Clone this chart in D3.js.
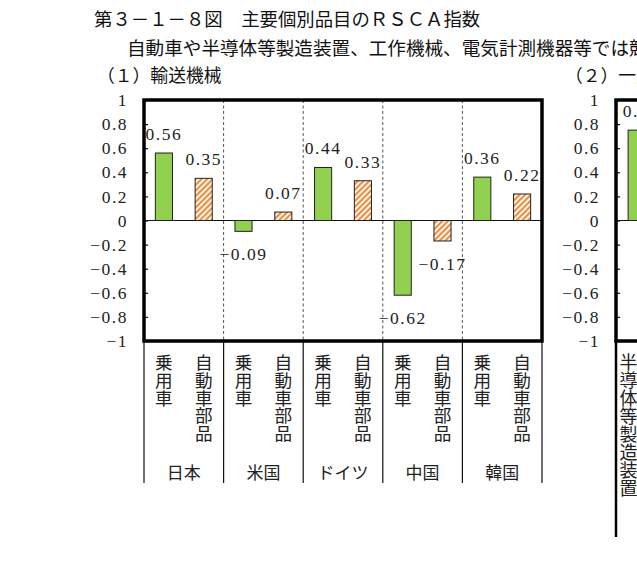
<!DOCTYPE html>
<html><head><meta charset="utf-8">
<script src="https://cdn.jsdelivr.net/npm/d3@7"></script>
<style>
html,body{margin:0;padding:0;background:#fff;overflow:hidden;}
svg{display:block;}
.jp{font-family:"Noto Sans CJK JP","Noto Sans CJK SC",sans-serif;}
.num{font-family:"Liberation Serif","DejaVu Serif",serif;font-size:17.5px;letter-spacing:1.5px;fill:#222;}
</style></head>
<body>
<svg id="c" width="637" height="570"></svg>
<script>
// ---- data ----
const countries = ["日本", "米国", "ドイツ", "中国", "韓国"];
const items = ["乗用車", "自動車部品"];
const passengerCars = [0.56, -0.09, 0.44, -0.62, 0.36];
const autoParts = [0.35, 0.07, 0.33, -0.17, 0.22];
const yTicks = [-1, -0.8, -0.6, -0.4, -0.2, 0, 0.2, 0.4, 0.6, 0.8, 1];
const panel2Items = ["半導体等製造装置"];
const panel2Values = [0.75];
const titleText = "第３－１－８図　主要個別品目のＲＳＣＡ指数";
const subtitleText = "自動車や半導体等製造装置、工作機械、電気計測機器等では競";
const panel1Title = "（１）輸送機械";
const panel2Title = "（２）一般機械";

// ---- build ----
const svg = d3.select("#c");
const defs = svg.append("defs");
const pat = defs.append("pattern").attr("id", "hatch").attr("patternUnits", "userSpaceOnUse")
  .attr("width", 4).attr("height", 4).attr("patternTransform", "rotate(45)");
pat.append("rect").attr("width", 4).attr("height", 4).attr("fill", "#fff");
pat.append("rect").attr("width", 2.2).attr("height", 4).attr("fill", "#e98f3f");

const y = d3.scaleLinear().domain([-1, 1]).range([341, 100]);
const fmtTick = d3.format("");
const fmtVal = d3.format(".2f");

// header texts
svg.append("text").attr("class", "jp").attr("x", 94).attr("y", 26).attr("font-size", 18.4).attr("fill", "#111").text(titleText);
svg.append("text").attr("class", "jp").attr("x", 127).attr("y", 55).attr("font-size", 18.6).attr("fill", "#111").text(subtitleText);
svg.append("text").attr("class", "jp").attr("x", 97).attr("y", 82).attr("font-size", 17.8).attr("fill", "#111").text(panel1Title);
svg.append("text").attr("class", "jp").attr("x", 565).attr("y", 82).attr("font-size", 17.8).attr("fill", "#111").text(panel2Title);

// ---- panel 1 ----
const rows = [];
countries.forEach((c, i) => {
  rows.push({country: c, item: items[0], value: passengerCars[i], key: c + "-0", kind: 0});
  rows.push({country: c, item: items[1], value: autoParts[i], key: c + "-1", kind: 1});
});
const L = 144, R = 542;
const xOuter = d3.scaleBand().domain(countries).range([L, R]);
const x = d3.scaleBand().domain(rows.map(d => d.key)).range([L, R]).paddingInner(0.57).paddingOuter(0.285);

const p1 = svg.append("g");
// dashed separators
p1.selectAll("line.sep").data(countries.slice(1)).join("line")
  .attr("x1", d => xOuter(d)).attr("x2", d => xOuter(d))
  .attr("y1", y(1)).attr("y2", y(-1))
  .attr("stroke", "#555").attr("stroke-width", 1).attr("stroke-dasharray", "3,2.5");
// lines below the plot
const bounds = countries.map(d => xOuter(d)).concat([R]);
p1.selectAll("line.low").data(bounds).join("line")
  .attr("x1", d => d).attr("x2", d => d).attr("y1", y(-1)).attr("y2", 483)
  .attr("stroke", "#111").attr("stroke-width", 1.2);
// zero line
p1.append("line").attr("x1", L).attr("x2", R).attr("y1", y(0)).attr("y2", y(0)).attr("stroke", "#111").attr("stroke-width", 1.2);
// bars
p1.selectAll("rect.bar").data(rows).join("rect")
  .attr("x", d => x(d.key)).attr("width", x.bandwidth())
  .attr("y", d => y(Math.max(0, d.value))).attr("height", d => Math.abs(y(d.value) - y(0)))
  .attr("fill", d => d.kind === 0 ? "#92d050" : "url(#hatch)")
  .attr("stroke", "#222").attr("stroke-width", 1);
// value labels
p1.selectAll("text.val").data(rows).join("text").attr("class", "num")
  .attr("x", d => x(d.key) + x.bandwidth() / 2)
  .attr("y", d => d.value >= 0 ? y(d.value) - 13 : y(d.value) + 29)
  .attr("text-anchor", "middle").text(d => fmtVal(d.value));
// y axis
const ax1 = p1.append("g").attr("transform", `translate(${L},0)`)
  .call(d3.axisRight(y).tickValues(yTicks).tickSize(4).tickFormat(""));
ax1.select(".domain").remove();
ax1.selectAll("line").attr("stroke", "#111").attr("stroke-width", 1.2);
p1.selectAll("text.tick").data(yTicks).join("text").attr("class", "num")
  .attr("x", 128).attr("y", d => y(d)).attr("dy", "0.35em").attr("text-anchor", "end").text(d => fmtTick(d));
// frame
p1.append("rect").attr("x", L).attr("y", y(1)).attr("width", R - L).attr("height", y(-1) - y(1))
  .attr("fill", "none").attr("stroke", "#000").attr("stroke-width", 3.5);
// vertical category labels
p1.selectAll("text.cat").data(rows).join("text").attr("class", "jp")
  .attr("x", d => x(d.key) + x.bandwidth() / 2).attr("y", 354)
  .attr("font-size", 17.6).attr("fill", "#222")
  .style("writing-mode", "vertical-rl").style("text-orientation", "upright")
  .text(d => d.item);
// country labels
p1.selectAll("text.cty").data(countries).join("text").attr("class", "jp")
  .attr("x", d => xOuter(d) + xOuter.bandwidth() / 2).attr("y", 479)
  .attr("font-size", 17).attr("fill", "#222").attr("text-anchor", "middle").text(d => d);

// ---- panel 2 (partially visible) ----
const L2 = 616;
const x2 = d3.scaleBand().domain(panel2Items).range([L2, L2 + 50]).padding(0.32);
const p2 = svg.append("g");
p2.append("line").attr("x1", L2).attr("x2", 700).attr("y1", y(0)).attr("y2", y(0)).attr("stroke", "#111").attr("stroke-width", 1.2);
p2.selectAll("rect.bar").data(panel2Values).join("rect")
  .attr("x", (d, i) => x2(panel2Items[i])).attr("width", x2.bandwidth())
  .attr("y", d => y(Math.max(0, d))).attr("height", d => Math.abs(y(d) - y(0)))
  .attr("fill", "#92d050").attr("stroke", "#222").attr("stroke-width", 1);
p2.selectAll("text.val").data(panel2Values).join("text").attr("class", "num")
  .attr("x", (d, i) => x2(panel2Items[i]) + x2.bandwidth() / 2)
  .attr("y", d => y(d) - 13).attr("text-anchor", "middle").text(d => fmtVal(d));
const ax2 = p2.append("g").attr("transform", `translate(${L2},0)`)
  .call(d3.axisRight(y).tickValues(yTicks).tickSize(4).tickFormat(""));
ax2.select(".domain").remove();
ax2.selectAll("line").attr("stroke", "#111").attr("stroke-width", 1.2);
p2.selectAll("text.tick").data(yTicks).join("text").attr("class", "num")
  .attr("x", 600).attr("y", d => y(d)).attr("dy", "0.35em").attr("text-anchor", "end").text(d => fmtTick(d));
p2.append("rect").attr("x", L2).attr("y", y(1)).attr("width", 400).attr("height", y(-1) - y(1))
  .attr("fill", "none").attr("stroke", "#000").attr("stroke-width", 3.5);
p2.append("line").attr("x1", L2).attr("x2", L2).attr("y1", y(-1)).attr("y2", 537).attr("stroke", "#000").attr("stroke-width", 2.5);
p2.selectAll("text.cat").data(panel2Items).join("text").attr("class", "jp")
  .attr("x", d => L2 + 12.5).attr("y", 353)
  .attr("font-size", 18).attr("fill", "#222")
  .style("writing-mode", "vertical-rl").style("text-orientation", "upright")
  .text(d => d);
</script>
</body></html>
